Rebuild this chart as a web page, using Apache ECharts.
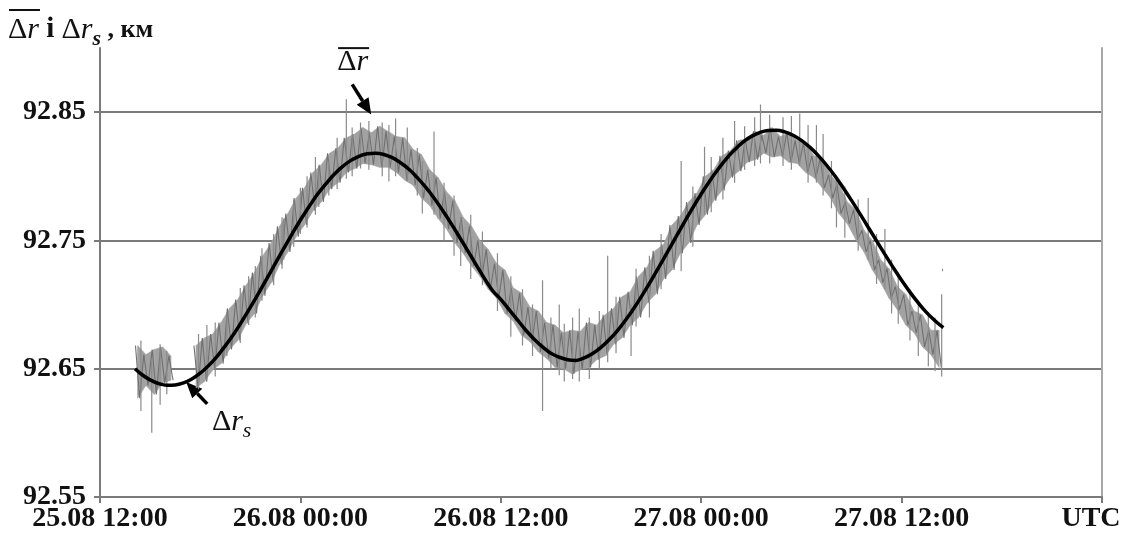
<!DOCTYPE html>
<html><head><meta charset="utf-8">
<script src="https://cdn.jsdelivr.net/npm/echarts@6/dist/echarts.min.js"></script>
<style>html,body{margin:0;padding:0;background:#fff}#c{width:1126px;height:539px}</style>
</head><body><div id="c"></div>
<script>
// ---- tick labels ----
const xTickLabels = ['25.08 12:00', '26.08 00:00', '26.08 12:00', '27.08 00:00', '27.08 12:00', 'UTC'];
const yTickValues = [92.55, 92.65, 92.75, 92.85];

// ---- smooth curve Δr_s (hours since 25.08 12:00, km) ----
const smoothTime = [2.1, 2.5, 3, 3.5, 4, 4.5, 5, 5.5, 6, 6.5, 7, 7.5, 8, 8.5, 9, 9.5, 10, 10.5, 11, 11.5, 12, 12.5, 13, 13.5, 14, 14.5, 15, 15.5, 16, 16.5, 17, 17.5, 18, 18.5, 19, 19.5, 20, 20.5, 21, 21.5, 22, 22.5, 23, 23.5, 24, 24.5, 25, 25.5, 26, 26.5, 27, 27.5, 28, 28.5, 29, 29.5, 30, 30.5, 31, 31.5, 32, 32.5, 33, 33.5, 34, 34.5, 35, 35.5, 36, 36.5, 37, 37.5, 38, 38.5, 39, 39.5, 40, 40.5, 41, 41.5, 42, 42.5, 43, 43.5, 44, 44.5, 45, 45.5, 46, 46.5, 47, 47.5, 48, 48.5, 49, 49.5, 50, 50.5];
const smoothValue = [92.650, 92.6455, 92.6413, 92.6385, 92.6371, 92.6373, 92.6389, 92.6420, 92.6465, 92.6524, 92.6595, 92.6678, 92.6769, 92.6870, 92.6978, 92.7090, 92.7205, 92.7321, 92.7437, 92.7550, 92.7659, 92.7760, 92.7856, 92.7937, 92.8012, 92.8073, 92.8122, 92.8156, 92.8175, 92.8180, 92.8170, 92.8145, 92.8106, 92.8055, 92.7990, 92.7915, 92.7831, 92.7737, 92.7637, 92.7532, 92.7424, 92.7316, 92.7208, 92.7110, 92.7040, 92.6960, 92.6880, 92.6800, 92.6730, 92.6670, 92.6620, 92.6590, 92.6570, 92.6565, 92.6584, 92.6618, 92.6666, 92.6727, 92.6799, 92.6883, 92.6977, 92.7079, 92.7187, 92.7299, 92.7414, 92.7529, 92.7644, 92.7756, 92.7862, 92.7962, 92.8053, 92.8136, 92.8206, 92.8266, 92.8311, 92.8341, 92.8357, 92.8359, 92.8346, 92.8320, 92.8280, 92.8227, 92.8163, 92.8088, 92.8004, 92.7911, 92.7812, 92.7709, 92.7603, 92.7497, 92.7391, 92.7288, 92.7189, 92.7097, 92.7013, 92.6937, 92.6874, 92.6820];

// ---- measured Δr (mean), banded per half-hour ----
const grayTime = [2.25, 2.75, 3.25, 3.75, 4.25, 5.75, 6.25, 6.75, 7.25, 7.75, 8.25, 8.75, 9.25, 9.75, 10.25, 10.75, 11.25, 11.75, 12.25, 12.75, 13.25, 13.75, 14.25, 14.75, 15.25, 15.75, 16.25, 16.75, 17.25, 17.75, 18.25, 18.75, 19.25, 19.75, 20.25, 20.75, 21.25, 21.75, 22.25, 22.75, 23.25, 23.75, 24.25, 24.75, 25.25, 25.75, 26.25, 26.75, 27.25, 27.75, 28.25, 28.75, 29.25, 29.75, 30.25, 30.75, 31.25, 31.75, 32.25, 32.75, 33.25, 33.75, 34.25, 34.75, 35.25, 35.75, 36.25, 36.75, 37.25, 37.75, 38.25, 38.75, 39.25, 39.75, 40.25, 40.75, 41.25, 41.75, 42.25, 42.75, 43.25, 43.75, 44.25, 44.75, 45.25, 45.75, 46.25, 46.75, 47.25, 47.75, 48.25, 48.75, 49.25, 49.75, 50.25];
const grayHigh = [92.668, 92.661, 92.665, 92.667, 92.660, 92.668, 92.674, 92.677, 92.686, 92.697, 92.704, 92.715, 92.725, 92.738, 92.748, 92.761, 92.771, 92.783, 92.791, 92.803, 92.809, 92.818, 92.822, 92.830, 92.833, 92.838, 92.834, 92.839, 92.835, 92.831, 92.830, 92.821, 92.817, 92.805, 92.799, 92.788, 92.781, 92.768, 92.761, 92.750, 92.743, 92.732, 92.727, 92.713, 92.709, 92.698, 92.695, 92.686, 92.684, 92.678, 92.680, 92.679, 92.686, 92.684, 92.692, 92.697, 92.706, 92.710, 92.722, 92.729, 92.742, 92.747, 92.762, 92.769, 92.780, 92.787, 92.800, 92.805, 92.816, 92.820, 92.828, 92.829, 92.835, 92.832, 92.838, 92.831, 92.834, 92.828, 92.826, 92.816, 92.814, 92.801, 92.794, 92.780, 92.774, 92.758, 92.750, 92.735, 92.728, 92.714, 92.708, 92.695, 92.692, 92.680, 92.680];
const grayLow = [92.627, 92.637, 92.630, 92.639, 92.641, 92.635, 92.640, 92.649, 92.654, 92.665, 92.672, 92.685, 92.693, 92.707, 92.717, 92.731, 92.741, 92.753, 92.762, 92.773, 92.780, 92.790, 92.795, 92.803, 92.806, 92.810, 92.809, 92.807, 92.807, 92.803, 92.797, 92.793, 92.783, 92.777, 92.767, 92.759, 92.748, 92.740, 92.730, 92.722, 92.712, 92.705, 92.693, 92.687, 92.676, 92.671, 92.663, 92.658, 92.651, 92.650, 92.646, 92.649, 92.651, 92.657, 92.660, 92.669, 92.674, 92.684, 92.690, 92.701, 92.708, 92.720, 92.727, 92.740, 92.748, 92.762, 92.770, 92.781, 92.789, 92.799, 92.804, 92.811, 92.813, 92.818, 92.815, 92.816, 92.811, 92.810, 92.803, 92.799, 92.791, 92.783, 92.771, 92.763, 92.751, 92.741, 92.727, 92.717, 92.705, 92.696, 92.684, 92.678, 92.667, 92.661, 92.651];

// ---- outliers / whiskers of Δr ----
const spikeTime = [2.45, 3.1, 3.6, 4.0, 5.9, 6.4, 6.9, 7.6, 8.4, 8.9, 9.3, 9.7, 10.4, 10.9, 11.0, 11.6, 12.0, 12.4, 12.9, 13.1, 13.7, 14.2, 14.75, 15.1, 15.6, 16.1, 16.9, 17.3, 17.7, 18.4, 19.0, 19.3, 20.0, 20.6, 21.2, 21.6, 22.2, 22.9, 23.8, 24.6, 25.3, 25.9, 26.5, 27.0, 27.5, 27.8, 28.3, 28.7, 29.3, 29.9, 30.4, 30.9, 31.8, 32.1, 32.9, 33.6, 34.8, 35.5, 36.2, 36.6, 37.3, 38.0, 38.6, 39.2, 39.55, 40.1, 40.9, 41.4, 41.9, 42.4, 42.9, 43.3, 43.8, 44.1, 44.6, 45.4, 46.0, 46.5, 47.0, 47.4, 47.8, 48.5, 49.0, 49.6, 50.0, 50.4, 50.45];
const spikeLow = [92.617, 92.600, 92.622, 92.630, 92.634, 92.640, 92.644, 92.660, 92.670, 92.684, 92.690, 92.703, 92.715, 92.728, 92.735, 92.745, 92.755, 92.760, 92.770, 92.776, 92.785, 92.790, 92.798, 92.800, 92.806, 92.805, 92.800, 92.796, 92.800, 92.796, 92.785, 92.771, 92.770, 92.750, 92.738, 92.730, 92.720, 92.715, 92.695, 92.675, 92.668, 92.660, 92.617, 92.650, 92.645, 92.640, 92.642, 92.640, 92.642, 92.650, 92.655, 92.662, 92.660, 92.683, 92.690, 92.712, 92.726, 92.745, 92.770, 92.772, 92.782, 92.795, 92.805, 92.808, 92.810, 92.810, 92.808, 92.805, 92.808, 92.795, 92.795, 92.785, 92.775, 92.760, 92.752, 92.742, 92.735, 92.716, 92.712, 92.693, 92.685, 92.672, 92.660, 92.652, 92.648, 92.644, 92.726];
const spikeHigh = [92.672, 92.658, 92.669, 92.664, 92.677, 92.684, 92.686, 92.694, 92.713, 92.722, 92.730, 92.744, 92.755, 92.768, 92.767, 92.782, 92.791, 92.800, 92.815, 92.808, 92.812, 92.830, 92.860, 92.838, 92.842, 92.843, 92.842, 92.840, 92.845, 92.838, 92.822, 92.812, 92.835, 92.795, 92.785, 92.768, 92.770, 92.757, 92.740, 92.722, 92.712, 92.700, 92.719, 92.690, 92.700, 92.685, 92.690, 92.697, 92.690, 92.695, 92.738, 92.706, 92.700, 92.728, 92.738, 92.755, 92.812, 92.792, 92.823, 92.815, 92.830, 92.843, 92.839, 92.846, 92.856, 92.848, 92.846, 92.847, 92.849, 92.840, 92.840, 92.833, 92.812, 92.800, 92.792, 92.782, 92.783, 92.755, 92.759, 92.735, 92.725, 92.712, 92.702, 92.694, 92.690, 92.708, 92.728];

// ---- build series data from the arrays ----
const zig = [], band = [];
for (let i = 0; i < grayTime.length; i++) {
  if (i > 0 && grayTime[i] - grayTime[i - 1] > 0.6) zig.push([(grayTime[i] + grayTime[i - 1]) / 2, null]);
  zig.push([grayTime[i] - 0.125, grayHigh[i]]);
  zig.push([grayTime[i] + 0.125, grayLow[i]]);
  if (i + 1 < grayTime.length && grayTime[i + 1] - grayTime[i] < 0.6)
    band.push([grayTime[i], grayLow[i], grayHigh[i], grayTime[i + 1], grayLow[i + 1], grayHigh[i + 1]]);
}
const spikes = [];
for (let i = 0; i < spikeTime.length; i++) {
  spikes.push([spikeTime[i], spikeLow[i]], [spikeTime[i], spikeHigh[i]], [spikeTime[i], null]);
}
const curve = smoothTime.map((t, i) => [t, smoothValue[i]]);

const FONT = '"Liberation Serif", "Times New Roman", serif';
const LBL = 28;
const chart = echarts.init(document.getElementById('c'), null, { renderer: 'canvas' });
chart.setOption({
  animation: false,
  backgroundColor: '#fff',
  grid: { left: 100, right: 24, top: 48, bottom: 42 },
  xAxis: {
    type: 'value', min: 0, max: 60, interval: 12,
    axisLine: { show: true, onZero: false, lineStyle: { color: '#7a7a7a', width: 2 } },
    axisTick: { show: true, length: 6, lineStyle: { color: '#7a7a7a', width: 2 } },
    splitLine: { show: false },
    axisLabel: {
      margin: 8, color: '#111', fontFamily: FONT, fontWeight: 'bold', fontSize: LBL,
      showMinLabel: true, showMaxLabel: true,
      formatter: v => { const s = xTickLabels[Math.round(v / 12)] || ''; return v >= 60 ? '{u|' + s + '}' : s; },
      rich: { u: { fontFamily: FONT, fontWeight: 'bold', fontSize: LBL, color: '#111', padding: [0, 22, 0, 0] } }
    }
  },
  yAxis: [{
    type: 'value', min: 92.55, max: 92.90, interval: 0.05,
    axisLine: { show: true, onZero: false, lineStyle: { color: '#7a7a7a', width: 2 } },
    axisTick: { show: true, length: 6, customValues: yTickValues, lineStyle: { color: '#7a7a7a', width: 2 } },
    axisLabel: { customValues: yTickValues, margin: 14, color: '#111', fontFamily: FONT, fontWeight: 'bold', fontSize: LBL,
      formatter: v => v.toFixed(2) },
    splitLine: { show: true, lineStyle: { color: '#7a7a7a', width: 2 } }
  }, {
    type: 'value', position: 'right', min: 92.55, max: 92.90, interval: 0.05,
    axisLine: { show: true, onZero: false, lineStyle: { color: '#a8a8a8', width: 2 } },
    axisTick: { show: false }, axisLabel: { show: false }, splitLine: { show: false }
  }],
  series: [
    { name: 'band', type: 'custom', data: band, silent: true, z: 1,
      encode: { x: [0, 3], y: [1, 2, 4, 5] },
      renderItem: (params, api) => {
        const a = api.coord([api.value(0), api.value(1)]), b = api.coord([api.value(0), api.value(2)]);
        const c = api.coord([api.value(3), api.value(5)]), d = api.coord([api.value(3), api.value(4)]);
        return { type: 'polygon', shape: { points: [a, b, c, d] }, style: { fill: '#a2a2a2', stroke: '#a2a2a2', lineWidth: 0.6 } };
      } },
    { name: 'Δr mean', type: 'line', data: zig, showSymbol: false, symbol: 'none', connectNulls: false,
      lineStyle: { color: '#707070', width: 1.1 }, z: 2, silent: true },
    { name: 'outliers', type: 'line', data: spikes, showSymbol: false, symbol: 'none', connectNulls: false,
      lineStyle: { color: '#8a8a8a', width: 1.2 }, z: 2, silent: true },
    { name: 'Δr_s', type: 'line', data: curve, smooth: 0.4, showSymbol: false, symbol: 'none',
      lineStyle: { color: '#000', width: 3.5 }, z: 5, silent: true }
  ]
});

// ---- annotations (anchored in data coordinates) ----
const mctx = document.createElement('canvas').getContext('2d');
function fontStr(p) { return (p.style || 'normal') + ' ' + (p.weight || 'normal') + ' ' + p.size + 'px ' + FONT; }
function run(pieces, x, yMid) {
  const els = []; let cx = x; const spans = [];
  pieces.forEach(p => {
    mctx.font = fontStr(p);
    const w = mctx.measureText(p.t).width;
    els.push({ type: 'text', x: cx, y: yMid + (p.dy || 0), silent: true,
      style: { text: p.t, fill: '#111', fontFamily: FONT, fontSize: p.size, fontWeight: p.weight || 'normal', fontStyle: p.style || 'normal', align: 'left', verticalAlign: 'middle' } });
    spans.push([cx, cx + w]); cx += w;
  });
  return { els, spans, end: cx };
}
const px = (t, v) => chart.convertToPixel({ gridIndex: 0 }, [t, v]);
function arrow(tail, tip) {
  const a = px(tail[0], tail[1]), b = px(tip[0], tip[1]);
  const dx = b[0] - a[0], dy = b[1] - a[1], L = Math.hypot(dx, dy), ux = dx / L, uy = dy / L;
  const hl = 16, hw = 7, bx = b[0] - ux * hl, by = b[1] - uy * hl;
  return [
    { type: 'line', silent: true, shape: { x1: a[0], y1: a[1], x2: bx, y2: by }, style: { stroke: '#000', lineWidth: 3.5 } },
    { type: 'polygon', silent: true, shape: { points: [[b[0], b[1]], [bx - uy * hw, by + ux * hw], [bx + uy * hw, by - ux * hw]] }, style: { fill: '#000' } }
  ];
}
const g = [];
// axis title
const title = run([
  { t: 'Δ', size: 30 }, { t: 'r', size: 30, style: 'italic' }, { t: ' і ', size: 29, weight: 'bold' },
  { t: 'Δ', size: 30 }, { t: 'r', size: 30, style: 'italic' }, { t: 's', size: 22, style: 'italic', weight: 'bold', dy: 9 },
  { t: ' , км', size: 26, weight: 'bold' }
], 8, 30);
g.push(...title.els);
g.push({ type: 'line', silent: true, shape: { x1: title.spans[0][0] + 1, y1: 10, x2: title.spans[1][1] + 1, y2: 10 }, style: { stroke: '#111', lineWidth: 2 } });
// peak label: mean Δr
const pk = px(14.2, 92.889);
const lab1 = run([{ t: 'Δ', size: 30 }, { t: 'r', size: 30, style: 'italic' }], pk[0], pk[1]);
g.push(...lab1.els);
g.push({ type: 'line', silent: true, shape: { x1: lab1.spans[0][0] + 1, y1: pk[1] - 14, x2: lab1.spans[1][1] + 1, y2: pk[1] - 14 }, style: { stroke: '#111', lineWidth: 2 } });
g.push(...arrow([15.10, 92.8716], [16.24, 92.8482]));
// trough label: Δr_s
const tr = px(6.7, 92.6085);
const lab2 = run([{ t: 'Δ', size: 30 }, { t: 'r', size: 30, style: 'italic' }, { t: 's', size: 22, style: 'italic', dy: 9 }], tr[0], tr[1]);
g.push(...lab2.els);
g.push(...arrow([6.42, 92.6226], [5.16, 92.6397]));
chart.setOption({ graphic: { elements: g } });
</script>
</body></html>
